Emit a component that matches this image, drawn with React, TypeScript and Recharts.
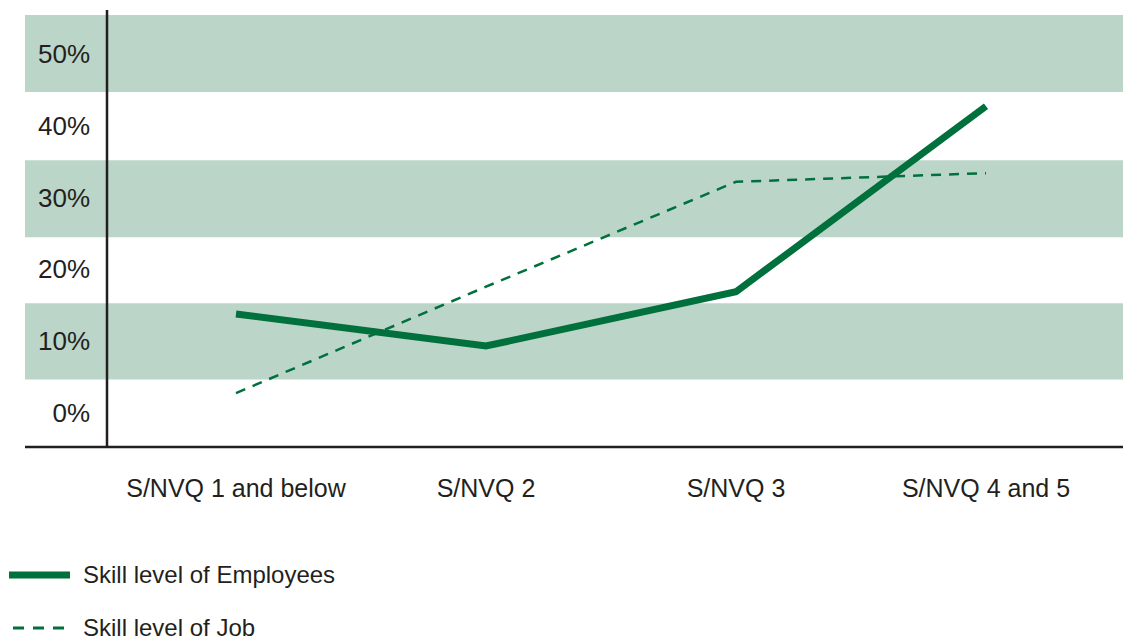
import { Line, LineChart, ReferenceArea, ReferenceLine, XAxis, YAxis } from "recharts";

const GREEN = "#00703C";
const BAND = "#BBD6C8";
const INK = "#231F20";
const FONT = "'Liberation Sans', Arial, Helvetica, sans-serif";

const levels = ["S/NVQ 1 and below", "S/NVQ 2", "S/NVQ 3", "S/NVQ 4 and 5"];
const employees = [13.8, 9.35, 16.9, 42.7];
const job = [2.8, 17.6, 32.2, 33.4];
const yTicks = [0, 10, 20, 30, 40, 50];
const bands: [number, number][] = [
	[4.7, 15.3],
	[24.5, 35.2],
	[44.7, 55.4],
];

const data = levels.map((level, i) => ({
	idx: i,
	level,
	employees: employees[i],
	job: job[i],
}));

const YTick = ({ y, payload }: any) => (
	<text x={90} y={y} dy={9} textAnchor="end" fontSize={26} fill={INK} fontFamily={FONT}>
		{payload.value}%
	</text>
);

const XTick = ({ x, y, payload }: any) => (
	<text x={x} y={y} dy={50} textAnchor="middle" fontSize={25} fill={INK} fontFamily={FONT}>
		{levels[payload.value]}
	</text>
);

function LegendRow({ label, dashed, top }: { label: string; dashed?: boolean; top: number }) {
	return (
		<div style={{ position: "absolute", left: 0, top, height: 30, width: 400 }}>
			<svg width={80} height={30} style={{ position: "absolute", left: 0, top: 0 }}>
				<line
					x1={dashed ? 13 : 9}
					x2={70}
					y1={15}
					y2={15}
					stroke={GREEN}
					strokeWidth={dashed ? 3 : 7}
					strokeDasharray={dashed ? "11 9" : undefined}
				/>
			</svg>
			<span
				style={{
					position: "absolute",
					left: 83,
					top: 0,
					lineHeight: "30px",
					fontSize: 24,
					color: INK,
					fontFamily: FONT,
					whiteSpace: "nowrap",
				}}
			>
				{label}
			</span>
		</div>
	);
}

export default function App() {
	return (
		<div style={{ position: "absolute", left: 0, top: 0, width: 1123, height: 639, background: "#fff" }}>
			<LineChart width={1123} height={520} data={data} margin={{ top: 10, right: 0, bottom: 0, left: 0 }}>
				{bands.map(([lo, hi]) => (
					<ReferenceArea key={lo} y1={lo} y2={hi} fill={BAND} fillOpacity={1} stroke="none" />
				))}
				<XAxis
					type="number"
					dataKey="idx"
					domain={[-0.844, 3.548]}
					ticks={[0, 1, 2, 3]}
					allowDataOverflow
					height={73}
					tickLine={false}
					tickSize={0}
					tickMargin={0}
					axisLine={{ stroke: INK, strokeWidth: 2.5 }}
					tick={<XTick />}
				/>
				<YAxis
					type="number"
					domain={[-4.7, 56.1]}
					ticks={yTicks}
					allowDataOverflow
					width={25}
					axisLine={false}
					tickLine={false}
					tick={<YTick />}
				/>
				<ReferenceLine x={-0.516} stroke={INK} strokeWidth={2.5} />
				<Line
					type="linear"
					dataKey="job"
					stroke={GREEN}
					strokeWidth={2.5}
					strokeDasharray="10 8"
					dot={false}
					isAnimationActive={false}
				/>
				<Line
					type="linear"
					dataKey="employees"
					stroke={GREEN}
					strokeWidth={7}
					dot={false}
					isAnimationActive={false}
				/>
			</LineChart>
			<LegendRow label="Skill level of Employees" top={560} />
			<LegendRow label="Skill level of Job" dashed top={613} />
		</div>
	);
}
